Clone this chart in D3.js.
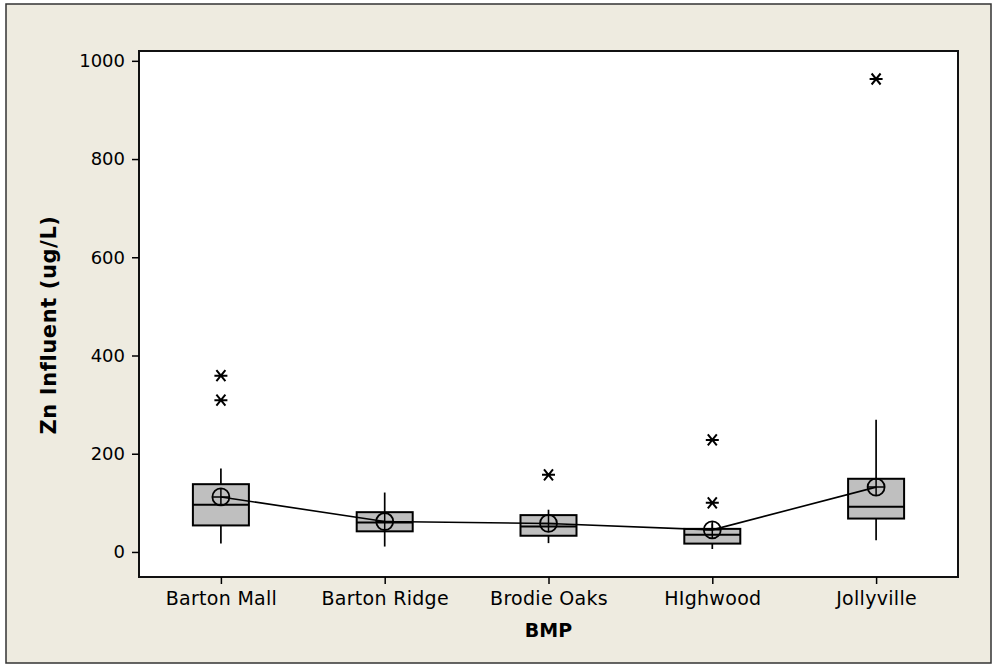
<!DOCTYPE html>
<html>
<head>
<meta charset="utf-8">
<script src="https://cdn.jsdelivr.net/npm/d3@7"></script>
<style>
  html, body { margin: 0; padding: 0; background: #fff; }
  svg { display: block; }
  text { font-family: "DejaVu Sans", sans-serif; fill: #000; }
</style>
</head>
<body>
<svg id="chart" width="997" height="668"></svg>
<script>
const categories   = ["Barton Mall", "Barton Ridge", "Brodie Oaks", "HIghwood", "Jollyville"];
const whiskerLow   = [17, 11, 18, 6, 24];
const q1           = [54, 42, 33, 17, 68];
const median       = [96, 60, 52, 35, 92];
const q3           = [138, 81, 75, 47, 149];
const whiskerHigh  = [170, 121, 86, 58, 269];
const means        = [112, 62, 58, 45, 132];
const outliers     = [[359, 309], [], [157], [228, 100], [963]];
const yTicks       = [0, 200, 400, 600, 800, 1000];
const xTitle = "BMP";
const yTitle = "Zn Influent (ug/L)";

const W = 997, H = 668;
const plot = { left: 139, right: 958, top: 51, bottom: 577 };

const svg = d3.select("#chart");

// outer frame
svg.append("rect").attr("x", 0).attr("y", 0).attr("width", W).attr("height", H).attr("fill", "#fff");
svg.append("rect").attr("x", 6).attr("y", 4).attr("width", 985).attr("height", 659)
  .attr("fill", "#EEEBE0").attr("stroke", "#333").attr("stroke-width", 1.5);

// plot area
svg.append("rect").attr("x", plot.left).attr("y", plot.top)
  .attr("width", plot.right - plot.left).attr("height", plot.bottom - plot.top)
  .attr("fill", "#fff");

const x = d3.scalePoint().domain(categories).range([plot.left, plot.right]).padding(0.5);
const y = d3.scaleLinear().domain([-51, 1020]).range([plot.bottom, plot.top]);

const boxW = 56;

const data = categories.map((c, i) => ({
  c, lo: whiskerLow[i], q1: q1[i], med: median[i], q3: q3[i], hi: whiskerHigh[i], mean: means[i], out: outliers[i]
}));

const g = svg.append("g");

// whiskers
g.selectAll(".wh").data(data).enter().append("line")
  .attr("x1", d => x(d.c)).attr("x2", d => x(d.c))
  .attr("y1", d => y(d.q3)).attr("y2", d => y(d.hi))
  .attr("stroke", "#000").attr("stroke-width", 1.7);
g.selectAll(".wl").data(data).enter().append("line")
  .attr("x1", d => x(d.c)).attr("x2", d => x(d.c))
  .attr("y1", d => y(d.q1)).attr("y2", d => y(d.lo))
  .attr("stroke", "#000").attr("stroke-width", 1.7);

// boxes
g.selectAll(".box").data(data).enter().append("rect")
  .attr("x", d => x(d.c) - boxW / 2).attr("width", boxW)
  .attr("y", d => y(d.q3)).attr("height", d => y(d.q1) - y(d.q3))
  .attr("fill", "#BFBFBF").attr("stroke", "#000").attr("stroke-width", 2);

// medians
g.selectAll(".med").data(data).enter().append("line")
  .attr("x1", d => x(d.c) - boxW / 2).attr("x2", d => x(d.c) + boxW / 2)
  .attr("y1", d => y(d.med)).attr("y2", d => y(d.med))
  .attr("stroke", "#000").attr("stroke-width", 2);

// mean connect line
g.append("path").datum(data)
  .attr("d", d3.line().x(d => x(d.c)).y(d => y(d.mean)))
  .attr("fill", "none").attr("stroke", "#000").attr("stroke-width", 1.6);

// mean symbols
const r = 8.5;
const ms = g.selectAll(".mean").data(data).enter().append("g")
  .attr("transform", d => `translate(${x(d.c)},${y(d.mean)})`);
ms.append("circle").attr("r", r).attr("fill", "none").attr("stroke", "#000").attr("stroke-width", 1.8);
ms.append("path").attr("d", `M${-r},0H${r}M0,${-r}V${r}`).attr("stroke", "#000").attr("stroke-width", 1.5);

// outliers
const outPts = [];
data.forEach(d => d.out.forEach(v => outPts.push({ c: d.c, v })));
g.selectAll(".out").data(outPts).enter().append("path")
  .attr("transform", d => `translate(${x(d.c)},${y(d.v)})`)
  .attr("d", "M-6.5,0H6.5M-4.5,-5.5L4.5,5.5M4.5,-5.5L-4.5,5.5")
  .attr("stroke", "#000").attr("stroke-width", 2).attr("fill", "none");

// plot border
svg.append("rect").attr("x", plot.left).attr("y", plot.top)
  .attr("width", plot.right - plot.left).attr("height", plot.bottom - plot.top)
  .attr("fill", "none").attr("stroke", "#111").attr("stroke-width", 2);

// axes
const yAxis = d3.axisLeft(y).tickValues(yTicks).tickSize(7).tickPadding(7).tickFormat(d3.format("d"));
const ya = svg.append("g").attr("transform", `translate(${plot.left},0)`).call(yAxis);
ya.select(".domain").remove();
ya.selectAll("line").attr("stroke", "#000").attr("stroke-width", 1.5);
ya.selectAll("text").attr("font-size", 18).attr("font-family", "DejaVu Sans").attr("fill", "#000");

const xAxis = d3.axisBottom(x).tickSize(7).tickPadding(8);
const xa = svg.append("g").attr("transform", `translate(0,${plot.bottom})`).call(xAxis);
xa.select(".domain").remove();
xa.selectAll("line").attr("stroke", "#000").attr("stroke-width", 1.5);
xa.selectAll("text").attr("font-size", 19).attr("letter-spacing", "0.3px")
  .attr("font-family", "DejaVu Sans").attr("fill", "#000");

// titles
svg.append("text").attr("x", (plot.left + plot.right) / 2).attr("y", 637)
  .attr("text-anchor", "middle").attr("font-size", 19).attr("font-weight", "bold").text(xTitle);
svg.append("text").attr("transform", `translate(56,325) rotate(-90)`)
  .attr("text-anchor", "middle").attr("font-size", 21).attr("letter-spacing", "0.6px")
  .attr("font-weight", "bold").text(yTitle);
</script>
</body>
</html>
